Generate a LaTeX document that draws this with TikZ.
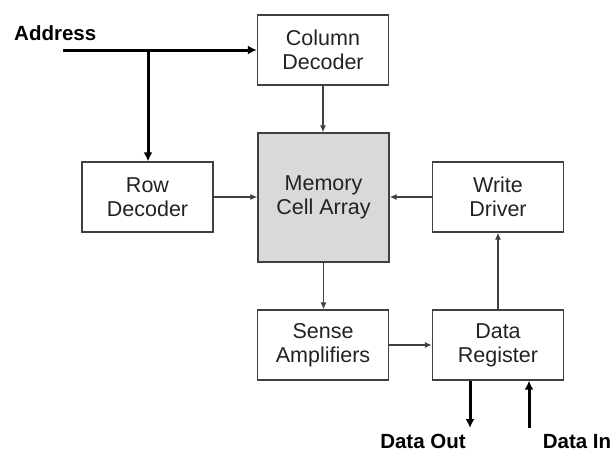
\documentclass[tikz,border=0pt]{standalone}
\usepackage{fontspec}
\setmainfont{Liberation Sans}
\usetikzlibrary{arrows.meta}
\definecolor{boxline}{HTML}{404040}
\definecolor{memfill}{HTML}{D9D9D9}
\definecolor{txt}{HTML}{222222}
\tikzset{
  blk/.style={draw=boxline, line width=1.3pt, minimum width=131pt, minimum height=70pt, inner sep=0pt, align=center, text=txt, font=\fontsize{21.5}{24}\selectfont},
  thin/.style={draw=boxline, line width=1.2pt, -{Latex[length=7pt,width=6pt]}},
  thick/.style={draw=black, line width=3pt, -{Latex[length=9pt,width=9pt]}},
  lbl/.style={font=\bfseries\fontsize{20.5}{24}\selectfont, text=black, inner sep=0pt}
}
\begin{document}
\begin{tikzpicture}[x=1pt,y=-1pt]
\useasboundingbox (0,0) rectangle (614,451);
\node[blk] (col) at (323,50) {Column\\Decoder};
\node[blk, fill=memfill, minimum height=129pt] (mem) at (323.5,197.5) {Memory\\Cell Array};
\node[blk] (row) at (147.5,197) {Row\\Decoder};
\node[blk] (wd) at (498,197) {Write\\Driver};
\node[blk] (sa) at (323,345) {Sense\\Amplifiers};
\node[blk] (reg) at (498,345) {Data\\Register};
\node[lbl, anchor=base west] (addr) at (14,40) {Address};
\node[lbl, anchor=base] (dout) at (423,448) {Data Out};
\node[lbl, anchor=base] (din) at (577,448) {Data In};
\coordinate (astart) at (63,50);
\coordinate (abr) at (148,50);
\coordinate (doend) at (470,428);
\coordinate (distart) at (529,428);
\draw[thick] (astart) -- (col.west);
\draw[thick] (abr) -- (abr |- row.north);
\draw[thin] (col.south) -- (col.south |- mem.north);
\draw[thin] (row.east) -- (row.east -| mem.west);
\draw[thin] (wd.west) -- (wd.west -| mem.east);
\draw[thin] (mem.south) -- (mem.south |- sa.north);
\draw[thin] (sa.east) -- (sa.east -| reg.west);
\draw[thin] (reg.north) -- (wd.south);
\draw[thick] (doend |- reg.south) -- (doend);
\draw[thick] (distart) -- (distart |- reg.south);
\end{tikzpicture}
\end{document}
